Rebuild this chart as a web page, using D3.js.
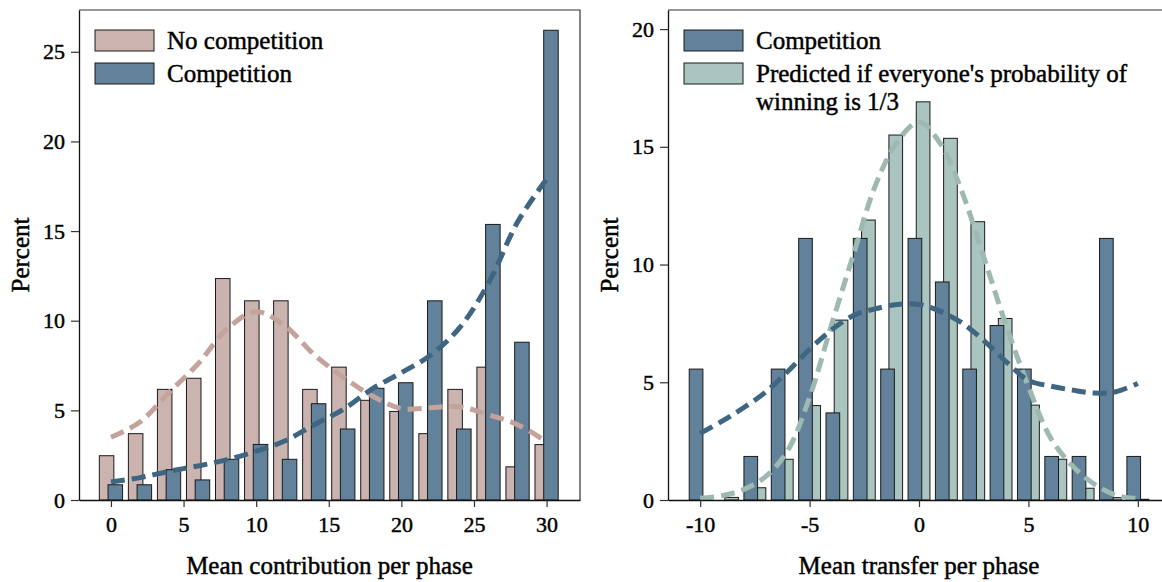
<!DOCTYPE html>
<html>
<head>
  <meta charset="utf-8">
  <script src="https://d3js.org/d3.v7.min.js"></script>
  <style>
  body { margin: 0; background: #fff; }
  * { font-family: "Liberation Serif", "Times New Roman", serif; }
  text { stroke: #000; stroke-width: 0.45px; fill: #000; }
  </style>
</head>
<body>
<div id="chart"></div>
<script>
// left panel: mean contribution per phase (bins of width 2)
const contribBins = [0, 2, 4, 6, 8, 10, 12, 14, 16, 18, 20, 22, 24, 26, 28, 30];
const noCompPct   = [2.47, 3.70, 6.17, 6.79, 12.35, 11.11, 11.11, 6.17, 7.41, 5.56, 4.94, 3.70, 6.17, 7.41, 1.85, 3.09];
const compPct     = [0.85, 0.85, 1.69, 1.12, 2.27, 3.10, 2.27, 5.37, 3.96, 6.23, 6.54, 11.11, 3.96, 15.37, 8.80, 26.2];
const noCompDens  = [3.5, 4.35, 6.0, 7.6, 9.55, 10.5, 9.7, 8.1, 6.85, 5.8, 5.1, 5.15, 5.2, 4.75, 4.2, 3.25];
const compDens    = [1.0, 1.25, 1.6, 1.9, 2.25, 2.72, 3.3, 4.2, 5.05, 6.2, 7.1, 8.07, 9.6, 12.1, 15.5, 17.9];

// right panel: mean transfer per phase (bins of width 1.25)
const transferBins = [-10, -8.75, -7.5, -6.25, -5, -3.75, -2.5, -1.25, 0, 1.25, 2.5, 3.75, 5, 6.25, 7.5, 8.75, 10];
const compTransferPct = [5.56, 0, 1.85, 5.56, 11.11, 3.70, 11.11, 5.56, 11.11, 9.26, 5.56, 7.41, 5.56, 1.85, 1.85, 11.11, 1.85];
const predictedPct    = [0.03, 0.11, 0.52, 1.73, 4.01, 7.64, 11.89, 15.5, 16.91, 15.36, 11.82, 7.71, 4.03, 1.73, 0.5, 0.1, 0.03];
const transferGrid = [-10, -9, -8, -7, -6, -5, -4, -3, -2, -1, 0, 1, 2, 3, 4, 5, 6, 7, 8, 9, 10];
const compTransferDens = [2.83, 3.35, 3.93, 4.59, 5.46, 6.4, 7.22, 7.83, 8.12, 8.3, 8.3, 8.0, 7.5, 6.74, 5.86, 5.08, 4.84, 4.67, 4.54, 4.6, 4.95];
const predictedDens    = [0.07, 0.18, 0.45, 1.0, 2.1, 4.36, 7.43, 10.41, 13.34, 15.2, 16.05, 15.1, 13.0, 10.2, 7.36, 4.82, 2.66, 1.46, 0.68, 0.2, 0.05];

const colors = {
  noComp: "#cbb4af", comp: "#62819a", pred: "#aac4bf",
  noCompLine: "#c3a39b", compLine: "#3e6581", predLine: "#9db9b1"
};

const svg = d3.select("#chart")
              .append("svg")
              .attr("width", 1162)
              .attr("height", 582);

function drawPanel(p) {
  const x = d3.scaleLinear().domain(p.xDomain).range([p.left, p.right]);
  const y = d3.scaleLinear().domain([0, p.yMax]).range([500, 10]);
  const g = svg.append("g");

  // frame (top + right)
  g.append("path")
   .attr("d", `M${p.left},10H${p.right}V500`)
   .attr("fill", "none")
   .attr("stroke", "#333")
   .attr("stroke-width", 1.2);

  // bars: first series behind, second series in front
  const barW = x(p.binWidth * 0.5) - x(0);
  p.bars.forEach(function(s) {
    g.selectAll(null)
     .data(s.values.map(function(v, i) { return { c: p.bins[i], v: v }; }).filter(function(d) { return d.v > 0; }))
     .join("rect")
     .attr("x", function(d) { return x(d.c + s.offset * p.binWidth) - barW / 2; })
     .attr("y", function(d) { return y(d.v); })
     .attr("width", barW)
     .attr("height", function(d) { return y(0) - y(d.v); })
     .attr("fill", s.color)
     .attr("stroke", "#1a1a1a")
     .attr("stroke-width", 1);
  });

  // dashed density lines
  const line = d3.line()
                 .x(function(d) { return x(d[0]); })
                 .y(function(d) { return y(d[1]); })
                 .curve(d3.curveCatmullRom);
  p.lines.forEach(function(l) {
    g.append("path")
     .datum(l.values.map(function(v, i) { return [p.grid[i], v]; }))
     .attr("fill", "none")
     .attr("stroke", l.color)
     .attr("stroke-width", 5)
     .attr("stroke-dasharray", "14,7")
     .attr("d", line);
  });

  // axes
  const yAxis = g.append("g")
                 .attr("transform", `translate(${p.left},0)`)
                 .call(d3.axisLeft(y).tickValues(p.yTicks).tickSize(8).tickSizeOuter(0).tickPadding(6));
  const xAxis = g.append("g")
                 .attr("transform", "translate(0,500)")
                 .call(d3.axisBottom(x).tickValues(p.xTicks).tickSize(7).tickSizeOuter(0).tickPadding(8)
                         .tickFormat(function(d) { return d < 0 ? "-" + Math.abs(d) : d; }));
  [yAxis, xAxis].forEach(function(a) {
    a.selectAll("text").style("font-size", "22px").attr("fill", "#000");
    a.selectAll("line").attr("stroke", "#333").attr("stroke-width", 1.2);
    a.select(".domain").attr("stroke", "#111").attr("stroke-width", 1.3);
  });
  xAxis.selectAll("text").attr("dy", "0.75em");

  // axis titles
  g.append("text")
   .attr("transform", `translate(${p.left - 59},255) rotate(-90)`)
   .attr("text-anchor", "middle")
   .attr("dy", "0.35em")
   .style("font-size", "25px")
   .text("Percent");
  g.append("text")
   .attr("x", (p.left + p.right) / 2)
   .attr("y", 574)
   .attr("text-anchor", "middle")
   .style("font-size", "25px")
   .text(p.xTitle);

  // legend
  p.legend.forEach(function(item, i) {
    const top = 30 + i * 33;
    g.append("rect")
     .attr("x", p.left + 16).attr("y", top)
     .attr("width", 59).attr("height", 21)
     .attr("fill", item.color)
     .attr("stroke", "#1a1a1a").attr("stroke-width", 1);
    item.lines.forEach(function(t, j) {
      g.append("text")
       .attr("x", p.left + 88)
       .attr("y", top + 19 + j * 28)
       .style("font-size", "25px")
       .text(t);
    });
  });
}

drawPanel({
  left: 79, right: 580,
  xDomain: [-2.2, 32.3], yMax: 27.33,
  bins: contribBins, binWidth: 2,
  bars: [
    { values: noCompPct, color: colors.noComp, offset: -0.15 },
    { values: compPct, color: colors.comp, offset: 0.15 }
  ],
  grid: contribBins,
  lines: [
    { values: noCompDens, color: colors.noCompLine },
    { values: compDens, color: colors.compLine }
  ],
  yTicks: [0, 5, 10, 15, 20, 25],
  xTicks: [0, 5, 10, 15, 20, 25, 30],
  xTitle: "Mean contribution per phase",
  legend: [
    { color: colors.noComp, lines: ["No competition"] },
    { color: colors.comp, lines: ["Competition"] }
  ]
});

drawPanel({
  left: 668, right: 1170,
  xDomain: [-11.47, 11.47], yMax: 20.81,
  bins: transferBins, binWidth: 1.25,
  bars: [
    { values: predictedPct, color: colors.pred, offset: 0.15 },
    { values: compTransferPct, color: colors.comp, offset: -0.15 }
  ],
  grid: transferGrid,
  lines: [
    { values: predictedDens, color: colors.predLine },
    { values: compTransferDens, color: colors.compLine }
  ],
  yTicks: [0, 5, 10, 15, 20],
  xTicks: [-10, -5, 0, 5, 10],
  xTitle: "Mean transfer per phase",
  legend: [
    { color: colors.comp, lines: ["Competition"] },
    { color: colors.pred, lines: ["Predicted if everyone's probability of", "winning is 1/3"] }
  ]
});
</script>
</body>
</html>
